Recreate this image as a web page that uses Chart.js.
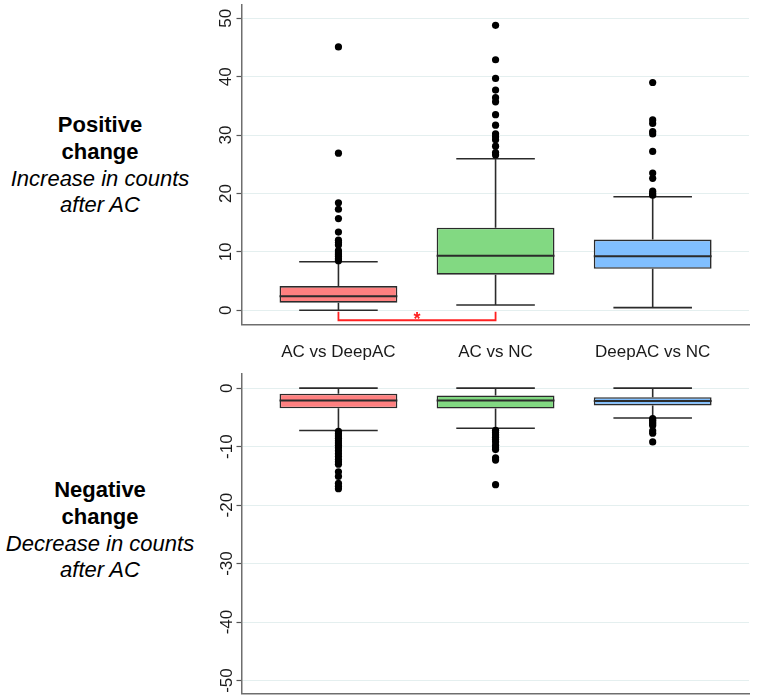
<!DOCTYPE html>
<html><head><meta charset="utf-8">
<script src="https://cdn.jsdelivr.net/npm/chart.js@4.4.1/dist/chart.umd.min.js"></script>
<style>
body{margin:0;background:#fff;width:760px;height:700px;position:relative;overflow:hidden;font-family:'Liberation Sans',Arial,sans-serif;}
canvas{position:absolute;left:0;}
.lab{position:absolute;left:0;width:200px;text-align:center;font-size:22px;line-height:26.7px;color:#000;}
.lab b{font-weight:bold;}
.lab i{font-style:italic;}
</style></head><body>
<div class="lab" style="top:112.3px"><b>Positive</b><br><b>change</b><br><i>Increase in counts</i><br><i>after AC</i></div>
<div class="lab" style="top:477.3px"><b>Negative</b><br><b>change</b><br><i>Decrease in counts</i><br><i>after AC</i></div>
<canvas id="topChart" width="760" height="370" style="top:0"></canvas>
<canvas id="botChart" width="760" height="330" style="top:370px"></canvas>
<script>
// ---------- data ----------
const categories = ['AC vs DeepAC', 'AC vs NC', 'DeepAC vs NC'];
const positions = [1, 2, 3];
const boxColors = ['#ff8080', '#82d982', '#80bfff'];

// Positive change
const posLow  = [0, 0.9, 0.45];
const posQ1   = [1.3, 6.1, 7.1];
const posMed  = [2.4, 9.35, 9.25];
const posQ3   = [4.15, 14.15, 12.1];
const posHigh = [8.3, 25.95, 19.45];
const posOut1 = [45.1, 26.9, 18.4, 17.3, 15.7, 13.4, 12.0, 11.6, 11.2, 10.2, 9.8, 9.5, 9.2, 8.8, 8.5];
const posOut2 = [48.8, 42.9, 39.7, 37.7, 36.4, 35.7, 33.5, 31.7, 30.2, 29.7, 29.2, 28.1, 27.0, 26.6];
const posOut3 = [39.0, 32.6, 32.0, 30.6, 30.2, 27.2, 23.5, 22.6, 20.4, 20.0, 19.7];
const posTicks = [0, 10, 20, 30, 40, 50];

// Negative change
const negHigh = [0, 0, 0];
const negQ3   = [-0.95, -1.25, -1.55];
const negMed  = [-2.1, -2.1, -2.2];
const negQ1   = [-3.45, -3.5, -2.95];
const negLow  = [-7.25, -6.85, -5.1];
const negOut1 = [-7.4, -7.8, -8.2, -8.6, -9.0, -9.4, -9.8, -10.2, -10.7, -11.2, -11.7, -12.2, -12.6, -13.0, -14.3, -15.1, -16.3, -16.8, -17.2];
const negOut2 = [-7.2, -7.6, -8.0, -8.4, -8.8, -9.2, -9.8, -10.2, -10.5, -11.9, -12.3, -16.5];
const negOut3 = [-5.2, -5.5, -5.8, -6.1, -6.4, -7.3, -7.7, -9.2];
const negTicks = [-50, -40, -30, -20, -10, 0];

// significance bracket (between group 1 and 2)
const sigFrom = 1, sigTo = 2, sigLineY = -1.71, sigTopY = -0.24, sigLabel = '*';

// ---------- helpers ----------
Chart.defaults.font.family = "'Liberation Sans', Arial, sans-serif";
const BOX_HALF = 0.375, CAP_HALF = 0.25;
const dark = '#2b2b2b';

function seg(a, b) { return [a, b, {x: b.x, y: null}]; }

function buildDatasets(q1, med, q3, lo, hi, outs) {
  const boxes = positions.map((x, i) => ({x: x, y: [q1[i], q3[i]]}));
  const medians = [], whiskers = [], outliers = [];
  positions.forEach((x, i) => {
    medians.push(...seg({x: x - BOX_HALF, y: med[i]}, {x: x + BOX_HALF, y: med[i]}));
    whiskers.push(...seg({x: x, y: q3[i]}, {x: x, y: hi[i]}));
    whiskers.push(...seg({x: x - CAP_HALF, y: hi[i]}, {x: x + CAP_HALF, y: hi[i]}));
    whiskers.push(...seg({x: x, y: q1[i]}, {x: x, y: lo[i]}));
    whiskers.push(...seg({x: x - CAP_HALF, y: lo[i]}, {x: x + CAP_HALF, y: lo[i]}));
    outs[i].forEach(v => outliers.push({x: x, y: v}));
  });
  return [
    {type: 'scatter', data: outliers, pointRadius: 3.6, pointBackgroundColor: '#000', pointBorderWidth: 0, order: 0},
    {type: 'line', data: medians, borderColor: dark, borderWidth: 2, pointRadius: 0, spanGaps: false, tension: 0, order: 1},
    {type: 'bar', data: boxes, backgroundColor: boxColors, borderColor: dark, borderWidth: 1.6, borderSkipped: false,
     barPercentage: 0.75, categoryPercentage: 1, order: 2},
    {type: 'line', data: whiskers, borderColor: dark, borderWidth: 1.6, pointRadius: 0, spanGaps: false, tension: 0, order: 3}
  ];
}

function yScale(min, max, ticks, pad) {
  return {
    type: 'linear', min: min, max: max,
    afterBuildTicks: s => { s.ticks = ticks.map(v => ({value: v})); },
    ticks: {minRotation: 90, maxRotation: 90, crossAlign: 'center', padding: pad, font: {size: 17}, color: '#1a1a1a'},
    grid: {color: '#e4efef', lineWidth: 1, drawTicks: true, tickLength: 5, tickColor: '#555', tickWidth: 1.2},
    border: {display: true, color: '#6e6e6e', width: 1.5},
    afterFit: s => { s.width = 241.5; s.paddingTop = 0; s.paddingBottom = 0; }
  };
}

function xScale(showLabels, height) {
  return {
    type: 'linear', min: 0.383, max: 3.613, offset: false,
    afterBuildTicks: s => { s.ticks = positions.map(v => ({value: v})); },
    ticks: {display: showLabels, padding: 18, font: {size: 17}, color: '#1a1a1a', maxRotation: 0, minRotation: 0,
            callback: v => categories[positions.indexOf(v)]},
    grid: {display: false, drawTicks: false},
    border: {display: true, color: '#6e6e6e', width: 1.5},
    afterFit: s => { s.height = height; s.paddingLeft = 0; s.paddingRight = 0; }
  };
}

const sigPlugin = {
  id: 'sig',
  afterDatasetsDraw(chart) {
    const {ctx, scales: {x, y}} = chart;
    const px = x.getPixelForValue((sigFrom + sigTo) / 2);
    const py = y.getPixelForValue(sigLineY);
    ctx.save();
    ctx.fillStyle = '#ff2020';
    ctx.font = "bold 18px 'Liberation Sans', Arial, sans-serif";
    ctx.textAlign = 'center';
    ctx.textBaseline = 'alphabetic';
    ctx.fillText(sigLabel, px, py + 4.4);
    ctx.restore();
  }
};

const common = {
  responsive: false, animation: false, devicePixelRatio: 1, events: [],
  plugins: {legend: {display: false}, tooltip: {enabled: false}}
};

const topSets = buildDatasets(posQ1, posMed, posQ3, posLow, posHigh, [posOut1, posOut2, posOut3]);
topSets.push({type: 'line', data: [{x: sigFrom, y: sigTopY}, {x: sigFrom, y: sigLineY}, {x: sigTo, y: sigLineY}, {x: sigTo, y: sigTopY}],
  borderColor: '#ff2020', borderWidth: 1.8, pointRadius: 0, tension: 0, order: 4});

new Chart(document.getElementById('topChart'), {
  type: 'bar',
  data: {datasets: topSets},
  options: Object.assign({}, common, {
    layout: {padding: {top: 4.5, right: 11, bottom: 0, left: 0}},
    scales: {x: xScale(true, 45.7), y: yScale(-2.4, 52.36, posTicks, 1.2)}
  }),
  plugins: [sigPlugin]
});

new Chart(document.getElementById('botChart'), {
  type: 'bar',
  data: {datasets: buildDatasets(negQ1, negMed, negQ3, negLow, negHigh, [negOut1, negOut2, negOut3])},
  options: Object.assign({}, common, {
    layout: {padding: {top: 3.3, right: 11, bottom: 6.5, left: 0}},
    scales: {x: xScale(false, 0), y: yScale(-52.22, 2.42, negTicks, -2.6)}
  })
});
</script>
</body></html>
